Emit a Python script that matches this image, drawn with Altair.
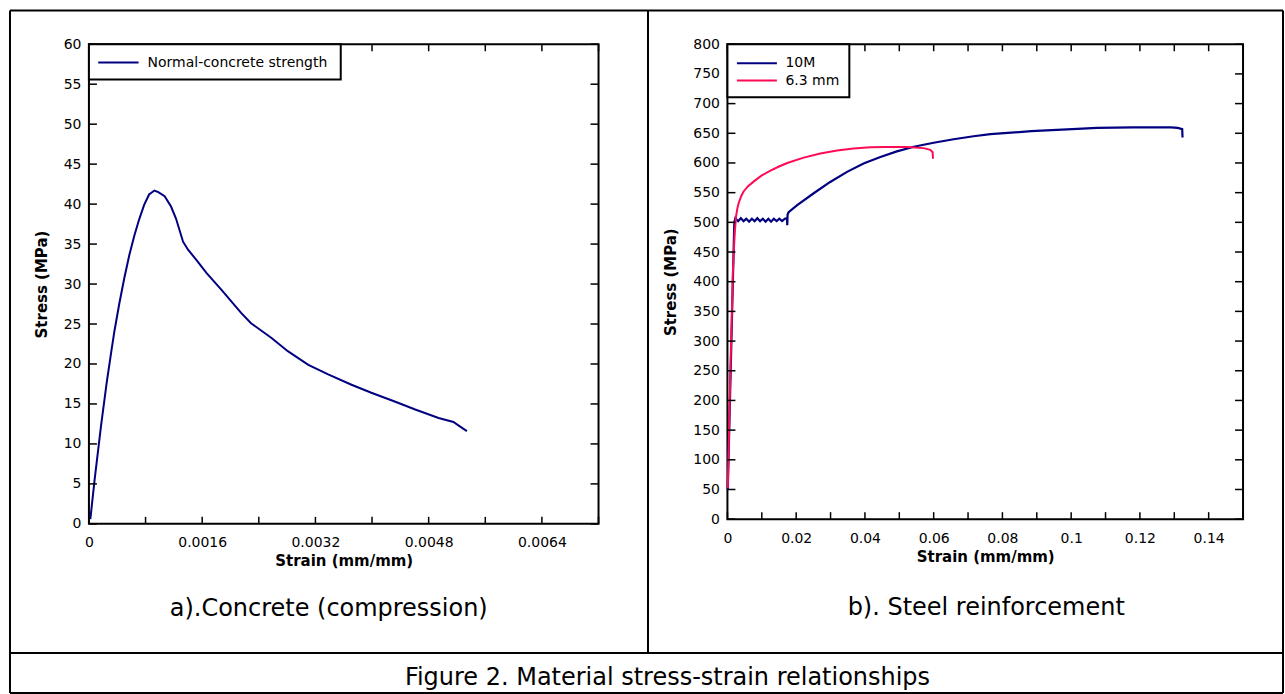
import altair as alt
import pandas as pd

# ---------------- data ----------------
conc_strain = [0.00002, 0.00008, 0.00017, 0.00025, 0.00032, 0.00036, 0.00043, 0.0005,
               0.00057, 0.00064, 0.00071, 0.00078, 0.00085, 0.000925, 0.00098, 0.00107,
               0.00116, 0.00123, 0.00133, 0.0014, 0.00152, 0.00166, 0.00187, 0.00215,
               0.00229, 0.00258, 0.00281, 0.0031, 0.00338, 0.00371, 0.00399, 0.00432,
               0.00461, 0.00494, 0.00515, 0.00524, 0.00534]
conc_stress = [0.6, 5.5, 12.2, 17.6, 21.8, 24.1, 27.6, 30.75,
               33.6, 36.0, 38.1, 39.9, 41.2, 41.7, 41.5, 41.0,
               39.7, 38.2, 35.3, 34.3, 33.0, 31.4, 29.3, 26.4,
               25.1, 23.25, 21.6, 19.9, 18.7, 17.4, 16.4, 15.3,
               14.3, 13.25, 12.75, 12.2, 11.6]

m10_strain = [0.0001, 0.0020, 0.0023, 0.0031, 0.0039, 0.0047, 0.0055, 0.0063, 0.0071,
              0.0079, 0.0087, 0.0095, 0.0103, 0.0111, 0.0119, 0.0127, 0.0135, 0.0143,
              0.0151, 0.0159, 0.0167, 0.01735, 0.0174, 0.0175, 0.0178, 0.0203, 0.0251,
              0.0299, 0.0348, 0.0396, 0.0445, 0.0493, 0.0542, 0.0600, 0.0658, 0.0716,
              0.0765, 0.0884, 0.1003, 0.1075, 0.118, 0.129, 0.131, 0.1323, 0.1324]
m10_stress = [50, 500, 507, 502, 507, 502, 506, 501, 506,
              502, 507, 502, 506, 501, 506, 501, 506, 502,
              506, 502, 506, 507, 495, 513, 517, 529, 549,
              568, 585, 599, 610, 619.5, 627.4, 634, 640, 645,
              648.5, 653.5, 657, 659, 660, 660, 659, 657, 643]

mm63_strain = [0.0001, 0.0009, 0.0016, 0.0021, 0.0025, 0.0029, 0.0033, 0.0040, 0.0047,
               0.0060, 0.0077, 0.0100, 0.0125, 0.0150, 0.0174, 0.0222, 0.027, 0.0319,
               0.0367, 0.0416, 0.0464, 0.0522, 0.0571, 0.059, 0.0597, 0.0598]
mm63_stress = [52, 260, 420, 480, 510, 524, 533, 544, 552,
               561, 569, 579, 587, 594, 600, 609, 616, 621,
               624.5, 626.5, 627, 627, 625, 622, 618, 607]

series_names = ["10M", "6.3 mm"]
series_colors = ["#000080", "#FF0A55"]
concrete_name = ["Normal-concrete strength"]

conc_xlabels = [0, 0.0016, 0.0032, 0.0048, 0.0064]
conc_xticks = [0, 0.0008, 0.0016, 0.0024, 0.0032, 0.004, 0.0048, 0.0056, 0.0064, 0.0072]
conc_yticks = [0, 5, 10, 15, 20, 25, 30, 35, 40, 45, 50, 55, 60]
steel_xlabels = [0, 0.02, 0.04, 0.06, 0.08, 0.1, 0.12, 0.14]
steel_xticks = [0, 0.01, 0.02, 0.03, 0.04, 0.05, 0.06, 0.07, 0.08, 0.09, 0.1, 0.11,
                0.12, 0.13, 0.14, 0.15]
steel_yticks = [0, 50, 100, 150, 200, 250, 300, 350, 400, 450, 500, 550, 600, 650,
                700, 750, 800]

sub_a = ["a).Concrete (compression)"]
sub_b = ["b). Steel reinforcement"]
caption = ["Figure 2. Material stress-strain relationships"]

# ---------------- tables ----------------
df_conc = pd.DataFrame({"strain": conc_strain, "stress": conc_stress,
                        "i": list(range(len(conc_strain)))})
df_m10 = pd.DataFrame({"strain": m10_strain, "stress": m10_stress, "series": "10M",
                       "i": list(range(len(m10_strain)))})
df_63 = pd.DataFrame({"strain": mm63_strain, "stress": mm63_stress, "series": "6.3 mm",
                      "i": list(range(len(mm63_strain)))})
one = pd.DataFrame({"a": [0]})

FONT = "DejaVu Sans"
W1, H1 = 510, 480
W2, H2 = 516, 475.3

color_scale = alt.Scale(domain=series_names, range=series_colors)


def axis_x(values, fmt, w):
    return alt.Axis(values=values, format=fmt, title="Strain (mm/mm)", ticks=False,
                    domain=False, grid=False, labelPadding=12, labelFlush=False,
                    labelOverlap=False, labelFont=FONT, labelFontSize=14,
                    labelColor="black", titleFont=FONT, titleFontSize=15,
                    titleFontWeight="bold", titleColor="black", titleX=w / 2,
                    titleY=37, titleAlign="center", titleBaseline="middle")


def axis_y(values, h, tx):
    return alt.Axis(values=values, format="d", title="Stress (MPa)", ticks=False,
                    domain=False, grid=False, labelPadding=8, labelOverlap=False,
                    labelFont=FONT, labelFontSize=14, labelColor="black",
                    titleFont=FONT, titleFontSize=15, titleFontWeight="bold",
                    titleColor="black", titleX=tx, titleY=h / 2, titleAngle=270,
                    titleAlign="center", titleBaseline="middle")


def inner_ticks(xvals, yvals, xs, ys, xax, yax, w, h):
    dx = pd.DataFrame({"strain": xvals})
    dy = pd.DataFrame({"stress": yvals})
    base_x = alt.Chart(dx).mark_rule(color="black", strokeWidth=1.5)
    base_y = alt.Chart(dy).mark_rule(color="black", strokeWidth=1.5)
    top = base_x.encode(x=alt.X("strain:Q", scale=xs, axis=xax), y=alt.value(0), y2=alt.value(7))
    bot = base_x.encode(x=alt.X("strain:Q", scale=xs, axis=xax), y=alt.value(h - 7), y2=alt.value(h))
    lft = base_y.encode(y=alt.Y("stress:Q", scale=ys, axis=yax), x=alt.value(0), x2=alt.value(8))
    rgt = base_y.encode(y=alt.Y("stress:Q", scale=ys, axis=yax), x=alt.value(w - 8), x2=alt.value(w))
    return [top, bot, lft, rgt]


# ---------------- left panel: concrete ----------------
xs1 = alt.Scale(domain=[0, 0.0072], nice=False, zero=False)
ys1 = alt.Scale(domain=[0, 60], nice=False)
xax1 = axis_x(conc_xlabels, ".4~f", W1)
yax1 = axis_y(conc_yticks, H1, -47)

conc_line = alt.Chart(df_conc).mark_line(color="#000080", strokeWidth=2).encode(
    x=alt.X("strain:Q", scale=xs1, axis=xax1),
    y=alt.Y("stress:Q", scale=ys1, axis=yax1),
    order="i:Q",
)

# frame of the figure table (page coords relative to the left plot origin 88, 42.7)
L, R, T, B = -79, 1195, -33.7, 649.3
VX, HY = 559.5, 609.3
frame = [
    alt.Chart(one).mark_rule(color="black", strokeWidth=2).encode(
        x=alt.value(L), x2=alt.value(R), y=alt.value(T)),
    alt.Chart(one).mark_rule(color="black", strokeWidth=2).encode(
        x=alt.value(L), x2=alt.value(R), y=alt.value(B)),
    alt.Chart(one).mark_rule(color="black", strokeWidth=2).encode(
        x=alt.value(L), x2=alt.value(R), y=alt.value(HY)),
    alt.Chart(one).mark_rule(color="black", strokeWidth=2).encode(
        x=alt.value(L), y=alt.value(T), y2=alt.value(B)),
    alt.Chart(one).mark_rule(color="black", strokeWidth=2).encode(
        x=alt.value(R), y=alt.value(T), y2=alt.value(B)),
    alt.Chart(one).mark_rule(color="black", strokeWidth=2).encode(
        x=alt.value(VX), y=alt.value(T), y2=alt.value(HY)),
]

leg1_box = alt.Chart(one).mark_rect(fill="white", stroke="black", strokeWidth=2).encode(
    x=alt.value(0), x2=alt.value(252), y=alt.value(0), y2=alt.value(35.3))
leg1_sym = alt.Chart(one).mark_rule(color="#000080", strokeWidth=2).encode(
    x=alt.value(9.3), x2=alt.value(49.7), y=alt.value(18.3))
leg1_txt = alt.Chart(pd.DataFrame({"label": concrete_name})).mark_text(
    align="left", baseline="middle", font=FONT, fontSize=14, color="black").encode(
    text="label:N", x=alt.value(58.7), y=alt.value(18.3))

sub_a_txt = alt.Chart(pd.DataFrame({"t": sub_a})).mark_text(
    align="center", baseline="middle", font=FONT, fontSize=24, color="black").encode(
    text="t:N", x=alt.value(328 - 88), y=alt.value(608 - 42.7))
cap_txt = alt.Chart(pd.DataFrame({"t": caption})).mark_text(
    align="center", baseline="middle", font=FONT, fontSize=24, color="black").encode(
    text="t:N", x=alt.value(667 - 88), y=alt.value(677 - 42.7))

left = alt.layer(
    conc_line, *inner_ticks(conc_xticks, conc_yticks, xs1, ys1, xax1, yax1, W1, H1),
    *frame, leg1_box, leg1_sym, leg1_txt, sub_a_txt, cap_txt
).properties(width=W1, height=H1)

# ---------------- right panel: steel ----------------
xs2 = alt.Scale(domain=[0, 0.15], nice=False, zero=False)
ys2 = alt.Scale(domain=[0, 800], nice=False)
xax2 = axis_x(steel_xlabels, ".2~f", W2)
yax2 = axis_y(steel_yticks, H2, -57)

steel_x = alt.X("strain:Q", scale=xs2, axis=xax2)
steel_y = alt.Y("stress:Q", scale=ys2, axis=yax2)
line_m10 = alt.Chart(df_m10).mark_line(strokeWidth=2.2).encode(
    x=steel_x, y=steel_y, order="i:Q",
    color=alt.Color("series:N", scale=color_scale, legend=None))
line_63 = alt.Chart(df_63).mark_line(strokeWidth=2).encode(
    x=steel_x, y=steel_y, order="i:Q",
    color=alt.Color("series:N", scale=color_scale, legend=None))

df_leg2 = pd.DataFrame({"series": series_names})
leg2_box = alt.Chart(one).mark_rect(fill="white", stroke="black", strokeWidth=2).encode(
    x=alt.value(0), x2=alt.value(122), y=alt.value(0), y2=alt.value(53))
leg2_layers = []
for name, yy in zip(series_names, [19.0, 36.3]):
    base = alt.Chart(df_leg2).transform_filter(alt.datum.series == name)
    leg2_layers.append(base.mark_rule(strokeWidth=2).encode(
        x=alt.value(9.5), x2=alt.value(49.5), y=alt.value(yy),
        color=alt.Color("series:N", scale=color_scale, legend=None)))
    leg2_layers.append(base.mark_text(
        align="left", baseline="middle", font=FONT, fontSize=14, color="black").encode(
        text="series:N", x=alt.value(58), y=alt.value(yy)))

sub_b_txt = alt.Chart(pd.DataFrame({"t": sub_b})).mark_text(
    align="center", baseline="middle", font=FONT, fontSize=24, color="black").encode(
    text="t:N", x=alt.value(986 - 727), y=alt.value(607 - 42.7))

right = alt.layer(
    line_m10, line_63, *inner_ticks(steel_xticks, steel_yticks, xs2, ys2, xax2, yax2, W2, H2),
    leg2_box, *leg2_layers, sub_b_txt
).properties(width=W2, height=H2)

chart = alt.hconcat(
    left, right, spacing=129, bounds="flush",
    padding={"left": 8, "top": 8, "right": 0, "bottom": 0},
).resolve_scale(color="shared").configure_view(stroke="black", strokeWidth=2)

chart.save("out.html", embed_options={"renderer": "svg", "actions": False})
